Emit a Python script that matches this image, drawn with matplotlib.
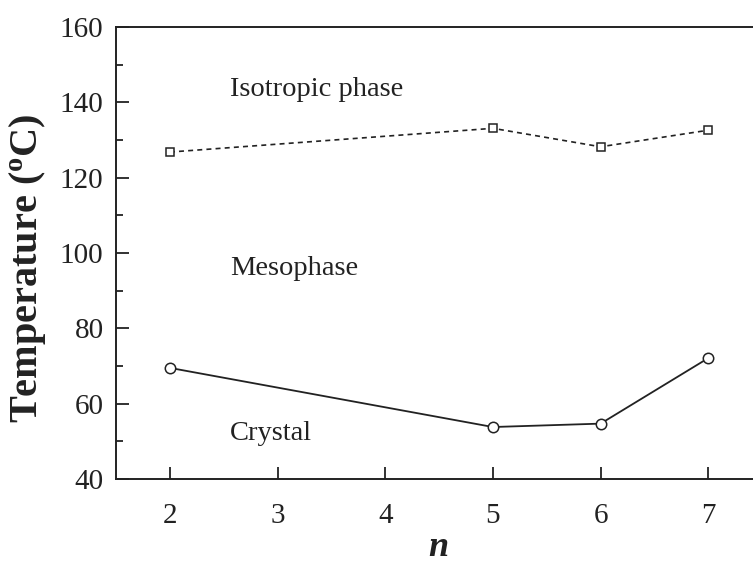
import matplotlib
matplotlib.use("Agg")
import matplotlib.pyplot as plt
from matplotlib.ticker import MultipleLocator

plt.rcParams['font.family'] = ['Liberation Serif', 'DejaVu Serif']
plt.rcParams['mathtext.fontset'] = 'custom'
plt.rcParams['mathtext.rm'] = 'Liberation Serif'
plt.rcParams['mathtext.bf'] = 'Liberation Serif:bold'
plt.rcParams['mathtext.it'] = 'Liberation Serif:italic'

# spacer length n and transition temperatures
n_values = [2, 5, 6, 7]
clearing_temp = [126.8, 133.1, 128.2, 132.6]
melting_temp = [69.5, 53.8, 54.7, 72.1]

phase_labels = ["Isotropic phase", "Mesophase", "Crystal"]
label_y = [143.5, 96, 52]

ink = "#222222"

fig = plt.figure(figsize=(7.53, 5.66), dpi=100)
ax = fig.add_axes([116 / 753, 1 - 479 / 566, 700 / 753, 452 / 566])

ax.plot(n_values, clearing_temp, linestyle=(0, (3, 2.5)), linewidth=1.2, color=ink,
        marker='s', markersize=6, markerfacecolor='white', markeredgecolor=ink,
        markeredgewidth=1.1)
ax.plot(n_values, melting_temp, linestyle='-', linewidth=1.3, color=ink,
        marker='o', markersize=7.5, markerfacecolor='white', markeredgecolor=ink,
        markeredgewidth=1.1)

for text, y in zip(phase_labels, label_y):
    ax.text(2.56, y, text, fontsize=20.5, color=ink, va='center', ha='left')

ax.set_xlim(1.5, 8.0)
ax.set_ylim(40, 160)
ax.set_xticks([2, 3, 4, 5, 6, 7])
ax.yaxis.set_major_locator(MultipleLocator(20))
ax.yaxis.set_minor_locator(MultipleLocator(10))
ax.tick_params(which='both', direction='in', width=1.3, colors=ink,
               labelsize=21)
ax.tick_params(axis='y', pad=9)
ax.tick_params(axis='x', pad=17)
ax.tick_params(which='major', length=9)
ax.tick_params(which='minor', length=5)

for side in ['left', 'bottom', 'top']:
    ax.spines[side].set_linewidth(1.4)
    ax.spines[side].set_color(ink)
ax.spines['right'].set_visible(False)

fig.text(438 / 753, 1 - 547 / 566, "n", fontsize=26, fontweight='bold',
         fontstyle='italic', color=ink, ha='center', va='center')
fig.text(28 / 753, 1 - 268 / 566, r"Temperature ($\mathbf{^o}$C)", fontsize=29,
         fontweight='bold', color=ink, rotation=90, ha='center', va='center')

fig.savefig("out.png", dpi=100)
